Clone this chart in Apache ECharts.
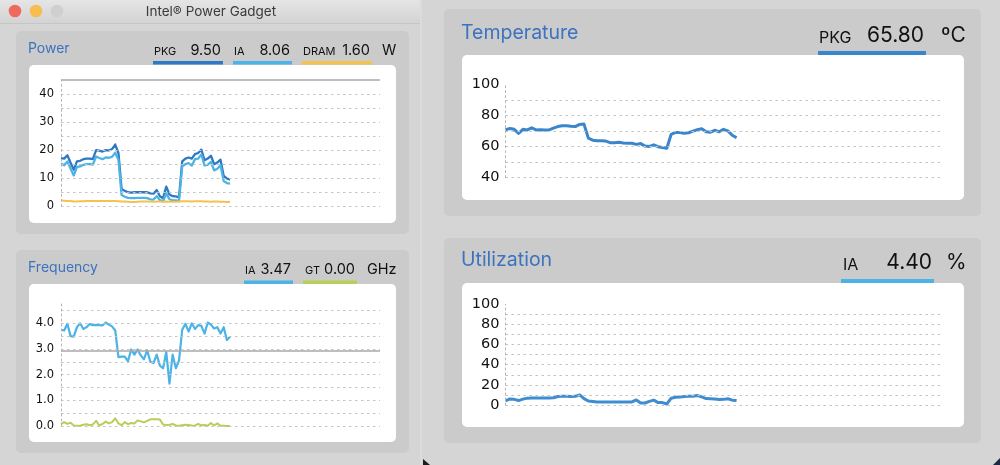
<!DOCTYPE html>
<html><head><meta charset="utf-8">
<style>html,body{margin:0;padding:0;background:#d5d5d5;overflow:hidden}#c{width:1000px;height:465px}</style>
<script src="https://cdn.jsdelivr.net/npm/echarts@6/dist/echarts.min.js"></script>
</head><body><div id="c"></div>
<script>
const powerPkg=[17.2,17,18.2,15.5,13,16,16.2,16.8,17,17,16.8,20,19.8,19.5,20,19.9,20.4,22,19,6.2,5.5,5,4.9,5,5,5,5,5,4.6,4.5,5.8,3.6,2.9,7,4.2,3.6,3.5,3.2,16,17,17.4,17,18.6,19,20.2,16.4,17,18,15,15.6,16.6,10.8,9.9,9.5];
const powerIa=[15.2,14.6,16,13.5,11,14,14.2,14.8,15,15,14.9,17.7,17.2,16.8,17.4,17.3,17.6,19.1,16.6,4,3.4,3,2.9,2.9,3,3,3,2.9,2.5,2.4,3.6,2.2,1.8,4.6,2.5,2.1,2.1,1.9,14.3,15,15.4,14.5,16.8,17,18.5,14.6,14.8,15.8,12.8,13.4,14.6,9,8.3,8.06];
const powerDram=[2.1,2,1.9,1.9,1.7,1.7,1.8,1.8,1.9,1.9,1.9,1.9,1.9,1.9,1.9,1.9,1.9,1.9,1.8,1.7,1.7,1.6,1.5,1.5,1.6,1.7,1.7,1.7,1.7,1.6,1.7,1.7,1.6,1.7,1.6,1.6,1.6,1.7,1.8,1.8,1.8,1.7,1.8,1.8,1.8,1.7,1.7,1.6,1.7,1.7,1.6,1.6,1.5,1.6];
const freqIa=[3.75,3.72,3.98,3.5,3.48,3.85,4,3.78,3.85,3.97,3.93,3.94,3.93,3.92,4.03,3.95,3.88,3.72,2.68,2.7,2.7,2.52,2.98,2.78,2.98,2.75,2.6,2.95,2.5,2.45,2.78,2.35,2.25,2.88,1.65,2.78,2.25,2.55,3.75,3.98,3.68,4,3.78,3.93,3.9,3.6,4.03,3.95,3.8,3.85,3.6,3.85,3.35,3.47];
const freqGt=[.07,.15,.08,.13,.02,.01,.01,.05,.07,.03,.06,.2,.02,.08,.17,.1,.15,.3,.1,.03,.15,.07,.12,.1,.22,.18,.14,.2,.26,.26,.26,.25,.06,.04,.05,.08,.02,.01,.03,.05,.04,.02,.01,.08,.03,.04,.01,.12,.02,.1,.01,.01,0,0];
const tempPkg=[70.8,71.8,71.2,68.6,71.2,70.8,72.2,70.8,71,70.8,70.8,72,73,73.5,73.5,73.2,73,74.4,74.6,65.5,64.2,63.9,63.8,63.6,62.6,62.5,62.8,62.4,62.2,62.2,61.5,62,60.4,60.2,61.2,60,59.5,59,68,69.2,69.2,68.6,69,70,71,71.6,69.6,69.4,70.6,69.6,71.2,70.2,67.4,65.8];
const utilIa=[4,6,5.6,4.4,5.8,6.8,7,7,7,7,7,7.2,8.5,8.6,8.6,8.5,8.6,10,6.3,4,3.5,3,3,3,3,3,3,3,3,3,5,2,2,3.6,4.8,2.4,2.4,1,6.8,7.6,8,8.4,8.8,8.6,9.4,8,6.4,6.2,6,5.5,5.6,6.2,4.8,4.4];
const powerLimit=45, freqLimit=2.93;
const powerTicks=[0,10,20,30,40], freqTicks=[0,1,2,3,4], tempTicks=[40,60,80,100], utilTicks=[0,20,40,60,80,100];
const slots=Array.from({length:101},(_,i)=>i);

const C={pkg:'#2f78c4',ia:'#4cb3e6',dram:'#f3c24f',gt:'#b8cf57',title:'#3c73bf',tick:'#111',grid:'#c4c4c4',panel:'#cbcbcb',axis:'#b5b5b5',temp:'#3a86cc',util:'#3f8dd0'};
const sans='Inter,"Liberation Sans",sans-serif';
const g=[];
const rect=(x,y,w,h,fill,r)=>g.push({type:'rect',shape:{x,y,width:w,height:h,r:r||0},style:{fill},silent:true});
const txt=(text,x,y,size,fill,align,family)=>g.push({type:'text',x,y:y+1,style:{text,fontSize:size,fill,align:align||'left',verticalAlign:'middle',fontFamily:family||sans},silent:true});

// window chrome
g.push({type:'rect',shape:{x:0,y:0,width:420,height:23},style:{fill:{type:'linear',x:0,y:0,x2:0,y2:1,colorStops:[{offset:0,color:'#e6e5e6'},{offset:1,color:'#d3d3d3'}]}},silent:true});
rect(0,23,420,1,'#c6c6c6');
rect(420,0,2,465,'#dcdcdc');
[[15,'#ee6a5f'],[36,'#f6bd4f'],[57,'#cfcfcf']].forEach(d=>g.push({type:'circle',shape:{cx:d[0],cy:11,r:6.3},style:{fill:d[1]},silent:true}));
txt('Intel® Power Gadget',211,10.5,13.5,'#3a3a3a','center');
// corners
g.push({type:'polygon',shape:{points:[[423,459],[430,465],[423,465]]},style:{fill:'#1c1c1c'},silent:true});
g.push({type:'polygon',shape:{points:[[1000,458],[1000,465],[993,465]]},style:{fill:'#1d2a45'},silent:true});

// panels
const panels=[
 {p:[16,31,393,203],c:[29,65,367,158]},
 {p:[16,250,393,203],c:[29,284,367,158]},
 {p:[444,9,537,207],c:[462,55,502,145]},
 {p:[444,238,537,205],c:[462,283,502,144]}];
panels.forEach(o=>{rect(...o.p,C.panel,5);rect(...o.c,'#fff',5);});

// headers
txt('Power',28,48,14,C.title);
txt('PKG',154,51,11,'#111');txt('9.50',221,50,14.5,'#111','right');rect(153,61,70,3.5,C.pkg);
txt('IA',234,51,11,'#111');txt('8.06',290,50,14.5,'#111','right');rect(233,61,59,3.5,C.ia);
txt('DRAM',303,51,11,'#111');txt('1.60',370,50,14.5,'#111','right');rect(302,61,70,3.5,C.dram);
txt('W',382,50,14.5,'#111');
txt('Frequency',28,267,14,C.title);
txt('IA',245,270,11,'#111');txt('3.47',291,269,14.5,'#111','right');rect(244,280.5,49,3.5,C.ia);
txt('GT',305,270,11,'#111');txt('0.00',355,269,14.5,'#111','right');rect(303,280.5,54,3.5,C.gt);
txt('GHz',367,269,14.5,'#111');
txt('Temperature',461,32,19.5,C.title);
txt('PKG',819,37,16,'#111');txt('65.80',924,35,21,'#111','right');rect(818,51,108,4,C.temp);
txt('ºC',941,35,21,'#111');
txt('Utilization',461,259,19.5,C.title);
txt('IA',843,264,16,'#111');txt('4.40',932,262,21,'#111','right');rect(841,279,93,4,C.ia);
txt('%',946,262,21,'#111');

const grids=[
 {left:61,width:319,top:80,height:126.3},
 {left:61,width:319,top:302,height:124},
 {left:505.5,width:436,top:84.7,height:93},
 {left:505.5,width:436,top:304.3,height:100.7}];
const yCfg=[
 {min:0,max:45,interval:5,labels:powerTicks,size:11.5,fmt:v=>String(v)},
 {min:0,max:4.83,interval:.5,labels:freqTicks,size:11.5,fmt:v=>v.toFixed(1)},
 {min:40,max:100,interval:10,labels:tempTicks,size:14.5,fmt:v=>String(v)},
 {min:0,max:100,interval:10,labels:utilTicks,size:14.5,fmt:v=>String(v)}];

const line=(i,name,data,color,w,extra)=>Object.assign({type:'line',name,xAxisIndex:i,yAxisIndex:i,data,showSymbol:false,symbol:'none',silent:true,smooth:false,lineStyle:{color,width:w,join:'round'},z:3},extra||{});
const limit=v=>({silent:true,symbol:'none',label:{show:false},lineStyle:{color:'#a9a9a9',width:1.6,type:'solid'},data:[{yAxis:v}],animation:false});

echarts.init(document.getElementById('c'),null,{renderer:'canvas'}).setOption({
 animation:false,backgroundColor:'#d5d5d5',
 graphic:{elements:g},
 grid:grids,
 xAxis:grids.map((_,i)=>({type:'category',gridIndex:i,data:slots,boundaryGap:false,show:false})),
 yAxis:yCfg.map((y,i)=>({type:'value',gridIndex:i,min:y.min,max:y.max,interval:y.interval,z:5,
   axisLine:{show:true,lineStyle:{color:C.axis,type:[2,3],width:1}},axisTick:{show:false},
   splitLine:{show:true,showMaxLine:false,lineStyle:{color:C.grid,type:[2.5,3.5],width:1}},
   axisLabel:{show:true,margin:i<2?7:6,lineHeight:i<2?14:20,padding:[5,0,0,0],fontSize:y.size,color:C.tick,fontFamily:'"DejaVu Sans",sans-serif',
     formatter:v=>y.labels.some(l=>Math.abs(l-v)<1e-6)?y.fmt(v):''}})),
 series:[
  line(0,'PKG',powerPkg,C.pkg,2.3,{markLine:limit(powerLimit)}),
  line(0,'IA',powerIa,C.ia,2.3),
  line(0,'DRAM',powerDram,C.dram,2),
  line(1,'IA',freqIa,C.ia,2.2,{markLine:limit(freqLimit)}),
  line(1,'GT',freqGt,C.gt,2),
  line(2,'PKG',tempPkg,C.temp,3),
  line(3,'IA',utilIa,C.util,3)
 ]
});
</script></body></html>
